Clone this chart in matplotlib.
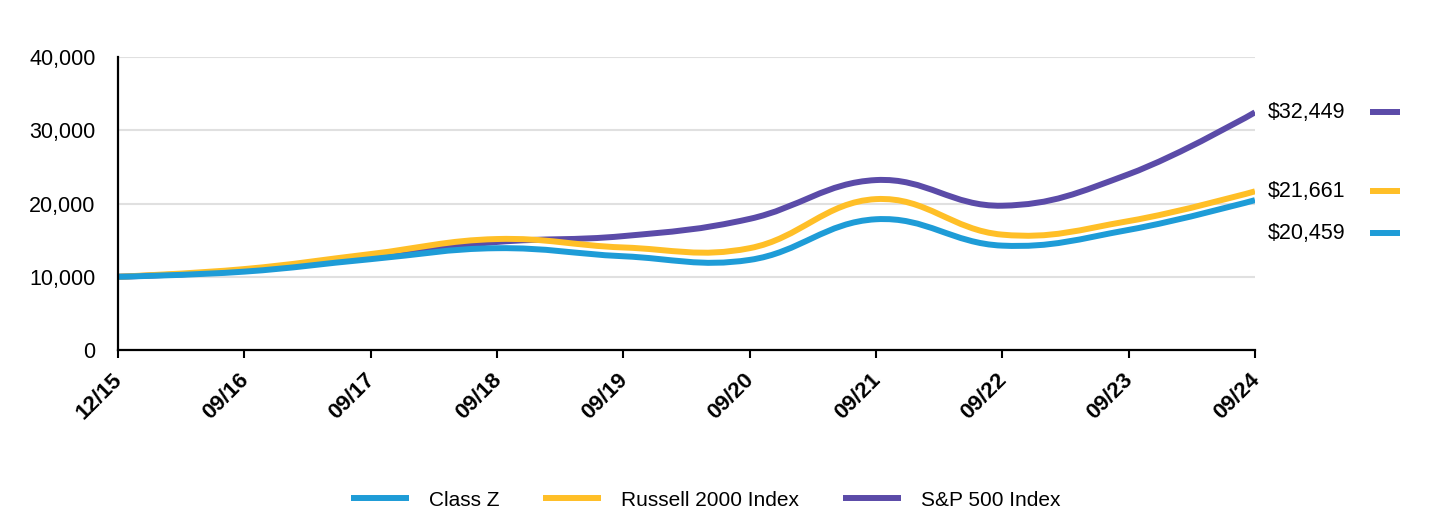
import matplotlib
matplotlib.use("Agg")
import matplotlib.pyplot as plt
import matplotlib.transforms as mtransforms
from matplotlib.path import Path
from matplotlib.patches import PathPatch
from matplotlib.lines import Line2D

plt.rcParams['font.family'] = ['Liberation Sans', 'DejaVu Sans']

# 数据
dates = ['12/15', '09/16', '09/17', '09/18', '09/19', '09/20', '09/21', '09/22', '09/23', '09/24']
class_z = [10000, 10700, 12400, 13900, 12800, 12300, 17850, 14250, 16400, 20459]
russell_2000 = [10000, 11050, 13100, 15150, 14000, 13900, 20600, 15750, 17600, 21661]
sp_500 = [10000, 10850, 12750, 14750, 15550, 17900, 23200, 19700, 24000, 32449]

series_names = ['Class Z', 'Russell 2000 Index', 'S&P 500 Index']
series_colors = ['#1E9CD7', '#FFBF27', '#5B4BA8']
end_labels = ['$20,459', '$21,661', '$32,449']


def spline_path(xs, ys, smoothing=1.5):
    """
    平滑曲线路径(贝塞尔)，穿过每个数据点
    """
    n = len(xs)
    verts = [(xs[0], ys[0])]
    codes = [Path.MOVETO]
    k = smoothing + 1
    ctrl = []
    for i in range(n):
        if i == 0 or i == n - 1:
            ctrl.append(((xs[i], ys[i]), (xs[i], ys[i])))
            continue
        lx = (smoothing * xs[i] + xs[i - 1]) / k
        ly = (smoothing * ys[i] + ys[i - 1]) / k
        rx = (smoothing * xs[i] + xs[i + 1]) / k
        ry = (smoothing * ys[i] + ys[i + 1]) / k
        corr = (ry - ly) * (rx - xs[i]) / (rx - lx) + ys[i] - ry
        ctrl.append(((lx, ly + corr), (rx, ry + corr)))
    for i in range(1, n):
        verts += [ctrl[i - 1][1], ctrl[i][0], (xs[i], ys[i])]
        codes += [Path.CURVE4] * 3
    return Path(verts, codes)


fig = plt.figure(figsize=(14.4, 5.16), dpi=100)
ax = fig.add_axes([0.0819, 0.3217, 0.7896, 0.5678])

x = list(range(len(dates)))
all_series = [class_z, russell_2000, sp_500]

# 绘制顺序：S&P 在下，Class Z 在上
for z, (vals, color) in enumerate(zip(all_series, series_colors)):
    patch = PathPatch(spline_path(x, vals), facecolor='none', edgecolor=color,
                      lw=4.3, capstyle='butt', zorder=5 - z)
    ax.add_patch(patch)

ax.set_xlim(0, len(dates) - 1)
ax.set_ylim(0, 40000)
ax.set_yticks([0, 10000, 20000, 30000, 40000])
ax.set_yticklabels(['0', '10,000', '20,000', '30,000', '40,000'], fontsize=15.5)
ax.set_xticks(x)
ax.set_xticklabels(dates, fontsize=16, fontweight='bold', rotation=45,
                   ha='right', va='top', rotation_mode='anchor')
ax.tick_params(axis='y', length=0, pad=16)
ax.tick_params(axis='x', length=6, width=1.5, pad=8)
shift_left = mtransforms.ScaledTranslation(-6 / 100, 0, fig.dpi_scale_trans)
for lbl in ax.get_xticklabels():
    lbl.set_transform(lbl.get_transform() + shift_left)
ax.grid(axis='y', color='#e0e0e0', lw=1.5)
ax.set_axisbelow(True)
for s in ['top', 'right']:
    ax.spines[s].set_visible(False)
for s in ['left', 'bottom']:
    ax.spines[s].set_linewidth(1.6)
    ax.spines[s].set_zorder(10)

# 右侧末值标签
label_offsets = [-24, 0, 0]
blend = mtransforms.blended_transform_factory(ax.transAxes, ax.transData)
for vals, color, text, off in zip(all_series, series_colors, end_labels, label_offsets):
    ax.annotate(text, xy=(1.0, vals[-1]), xycoords=('axes fraction', 'data'),
                xytext=(9, off), textcoords='offset points', fontsize=15.5,
                ha='left', va='center', annotation_clip=False)
    shift = mtransforms.ScaledTranslation(0, off / 72, fig.dpi_scale_trans)
    line = Line2D([1.101, 1.128], [vals[-1], vals[-1]], color=color, lw=4.3,
                  solid_capstyle='butt', clip_on=False, transform=blend + shift)
    ax.add_line(line)

handles = [Line2D([], [], color=c, lw=4.3, solid_capstyle='butt') for c in series_colors]
fig.legend(handles, series_names, loc='center', bbox_to_anchor=(0.49, 0.031), ncol=3,
           frameon=False, fontsize=15, handlelength=2.8, handletextpad=0.95,
           columnspacing=2.1)

fig.savefig('out.png', dpi=100)
